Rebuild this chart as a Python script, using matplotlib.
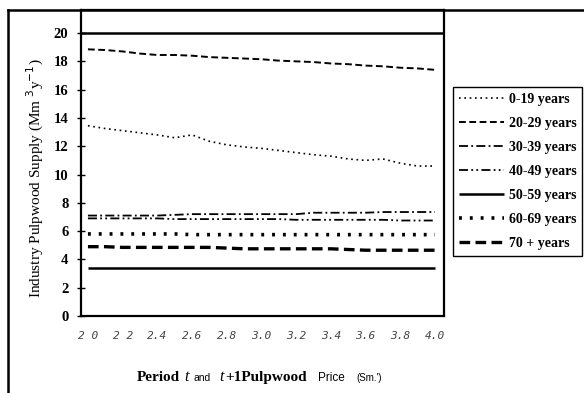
import matplotlib
matplotlib.use("Agg")
import matplotlib.pyplot as plt
from matplotlib.lines import Line2D

price = [2.0, 2.1, 2.2, 2.3, 2.4, 2.5, 2.6, 2.7, 2.8, 2.9, 3.0,
         3.1, 3.2, 3.3, 3.4, 3.5, 3.6, 3.7, 3.8, 3.9, 4.0]

age_0_19 = [13.45, 13.25, 13.1, 12.95, 12.8, 12.6, 12.8, 12.35, 12.1, 11.95, 11.85,
            11.7, 11.55, 11.4, 11.3, 11.1, 11.0, 11.1, 10.8, 10.6, 10.6]
age_20_29 = [18.85, 18.8, 18.7, 18.55, 18.45, 18.45, 18.4, 18.3, 18.25, 18.2, 18.15,
             18.05, 18.0, 17.95, 17.85, 17.8, 17.7, 17.65, 17.55, 17.5, 17.4]
age_30_39 = [7.1, 7.1, 7.1, 7.1, 7.1, 7.15, 7.2, 7.2, 7.2, 7.2, 7.2,
             7.2, 7.2, 7.3, 7.3, 7.3, 7.3, 7.35, 7.35, 7.35, 7.35]
age_40_49 = [6.9, 6.9, 6.9, 6.9, 6.9, 6.85, 6.85, 6.85, 6.85, 6.85, 6.85,
             6.85, 6.8, 6.8, 6.8, 6.8, 6.8, 6.8, 6.75, 6.75, 6.75]
age_50_59 = [3.4] * 21
age_60_69 = [5.8, 5.8, 5.8, 5.8, 5.8, 5.8, 5.75, 5.75, 5.75, 5.75, 5.75,
             5.75, 5.75, 5.75, 5.75, 5.75, 5.75, 5.75, 5.75, 5.75, 5.75]
age_70 = [4.9, 4.9, 4.85, 4.85, 4.85, 4.85, 4.85, 4.85, 4.8, 4.75, 4.75,
          4.75, 4.75, 4.75, 4.75, 4.7, 4.65, 4.65, 4.65, 4.65, 4.65]

labels = ["0-19 years", "20-29 years", "30-39 years", "40-49 years",
          "50-59 years", "60-69 years", "70 + years"]
xtick_vals = [2.0, 2.2, 2.4, 2.6, 2.8, 3.0, 3.2, 3.4, 3.6, 3.8, 4.0]
xtick_text = ["2 0", "2 2", "2.4", "2.6", "2.8", "3.0", "3.2", "3.4", "3.6", "3.8", "4.0"]
ytick_vals = [0, 2, 4, 6, 8, 10, 12, 14, 16, 18, 20]

series = [age_0_19, age_20_29, age_30_39, age_40_49, age_50_59, age_60_69, age_70]
styles = [
    dict(ls=(0, (1, 2.2)), lw=1.2),
    dict(ls=(0, (3.5, 1.8)), lw=1.4),
    dict(ls=(0, (5, 1.8, 1, 1.8)), lw=1.3),
    dict(ls=(0, (5, 1.8, 1, 1.8, 1, 1.8)), lw=1.3),
    dict(ls="-", lw=1.8),
    dict(ls=(0, (0.8, 2.2)), lw=2.6),
    dict(ls=(0, (3.2, 1.6)), lw=2.4),
]

fig = plt.figure(figsize=(5.84, 3.93), dpi=100)
ax = fig.add_axes([81 / 584, 1 - 316 / 393, (444 - 81) / 584, (316 - 10) / 393])

handles = []
for vals, lab, st in zip(series, labels, styles):
    h, = ax.plot(price, vals, color="black", linestyle=st["ls"], linewidth=st["lw"],
                 label=lab, solid_capstyle="butt")
    handles.append(h)

# top border line of the old Excel plot area
ax.axhline(20, color="black", lw=1.8)

ax.set_xlim(1.96, 4.052)
ax.set_ylim(0, 21.63)
ax.set_yticks(ytick_vals)
ax.set_yticklabels([str(v) for v in ytick_vals], fontfamily="Liberation Serif",
                   fontweight="bold", fontsize=10.5)
ax.set_xticks(xtick_vals)
ax.set_xticklabels(xtick_text, fontfamily="DejaVu Sans Mono", fontstyle="italic",
                   fontsize=8, color="#444444")
ax.tick_params(axis="y", direction="inout", length=6, width=1, pad=6)
ax.tick_params(axis="x", length=0, pad=11)
for sp in ax.spines.values():
    sp.set_linewidth(1.6)

# outer frame of the scanned figure
fig.add_artist(Line2D([8 / 584, 1.0], [1 - 10 / 393, 1 - 10 / 393],
                      transform=fig.transFigure, color="black", lw=1.8))
fig.add_artist(Line2D([8 / 584, 8 / 584], [0, 1 - 10 / 393],
                      transform=fig.transFigure, color="black", lw=1.8))

leg = fig.legend(handles=handles, loc="upper left",
                 bbox_to_anchor=(453 / 584, 1 - 87 / 393),
                 prop={"family": "Liberation Serif", "weight": "bold", "size": 10},
                 handlelength=3.3, handletextpad=0.3, labelspacing=0.8,
                 borderpad=0.4, borderaxespad=0, fancybox=False, framealpha=1)
leg.get_frame().set_edgecolor("black")
leg.get_frame().set_linewidth(1.0)

fig.text(35 / 584, 1 - 178 / 393, r"Industry Pulpwood Supply (Mm $^{3}$y$^{-1}$)",
         rotation=90, ha="center", va="center", fontfamily="Liberation Serif",
         fontsize=11)

# x axis title, mixed fonts as in the scan
yb = 1 - 381 / 393
fig.text(137 / 584, yb, "Period", fontfamily="Liberation Serif", fontweight="bold",
         fontsize=11, va="baseline")
fig.text(184 / 584, yb, "t", fontfamily="Liberation Serif", fontstyle="italic",
         fontsize=11.5, va="baseline")
fig.text(193 / 584, yb, "and", fontfamily="Liberation Sans", fontsize=7.5, va="baseline")
fig.text(219 / 584, yb, "t", fontfamily="Liberation Serif", fontstyle="italic",
         fontsize=11.5, va="baseline")
fig.text(225 / 584, yb, "+1Pulpwood", fontfamily="Liberation Serif", fontweight="bold",
         fontsize=11, va="baseline")
fig.text(318 / 584, yb, "Price", fontfamily="Liberation Sans", fontsize=8.5, va="baseline")
fig.text(356 / 584, yb, "(Sm.')", fontfamily="Liberation Sans", fontsize=7, va="baseline")

fig.savefig("out.png", dpi=100)
